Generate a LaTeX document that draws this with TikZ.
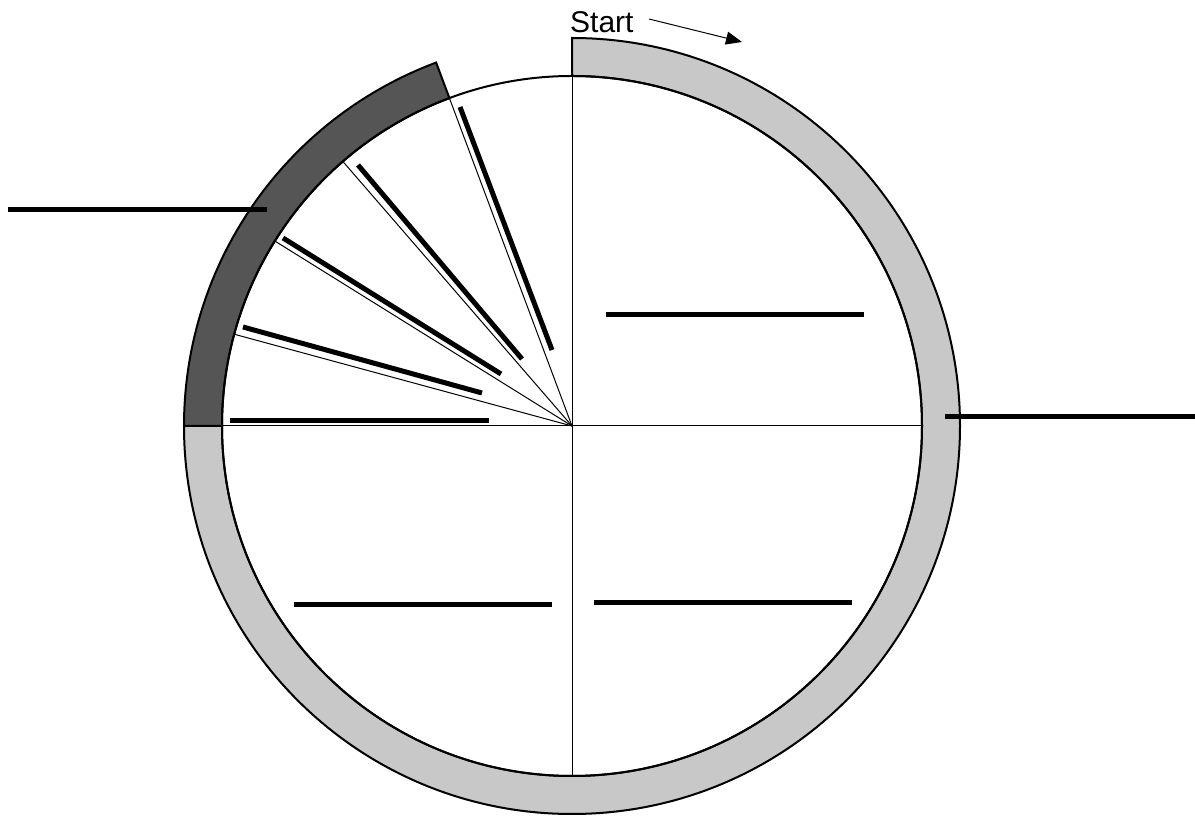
\documentclass[tikz,border=0pt]{standalone}
\usepackage{fontspec}
\setmainfont{Liberation Sans}
\usetikzlibrary{arrows.meta}
\definecolor{lightg}{HTML}{C8C8C8}
\definecolor{darkg}{HTML}{555555}
\begin{document}
\begin{tikzpicture}[x=1pt,y=1pt,
  ring/.style={line width=2pt, draw=black},
  spoke/.style={line width=1pt, draw=black},
  bar/.style={line width=5pt, draw=black},
  lbl/.style={font=\fontsize{30}{34}\selectfont, inner sep=0pt}]
\useasboundingbox (0,0) rectangle (1195,816);
\begin{scope}[shift={(572,390)}]
  \coordinate (C) at (0,0);
  \filldraw[ring, fill=lightg] (90:388) arc[start angle=90,end angle=-180,radius=388] -- (180:350) arc[start angle=-180,end angle=90,radius=350] -- cycle;
  \filldraw[ring, fill=darkg] (180:388) arc[start angle=180,end angle=110.5,radius=388] -- (110.5:350) arc[start angle=110.5,end angle=180,radius=350] -- cycle;
  \draw[ring] (C) circle[radius=350];
  \foreach \a in {0,90,180,270,110.5,130.9,148.1,164.8}
    \draw[spoke] (C) -- (\a:350);
\end{scope}
% bars
\draw[bar] (460,709) -- (552,466);
\draw[bar] (358,651) -- (522,457);
\draw[bar] (283,578) -- (501,442);
\draw[bar] (243,489) -- (482,423);
\draw[bar] (230,395) -- (489,395);
\draw[bar] (606,501) -- (864,501);
\draw[bar] (294,211) -- (552,211);
\draw[bar] (594,213) -- (852,213);
\draw[bar] (8,606) -- (267,606);
\draw[bar] (945,399) -- (1195,399);
% start label
\node[lbl, anchor=base west] (start) at (570,783) {Start};
\coordinate (a1) at (649,797);
\coordinate (a2) at (742,774);
\draw[line width=1pt, -{Triangle[length=16pt,width=13pt]}] (a1) -- (a2);
\end{tikzpicture}
\end{document}
